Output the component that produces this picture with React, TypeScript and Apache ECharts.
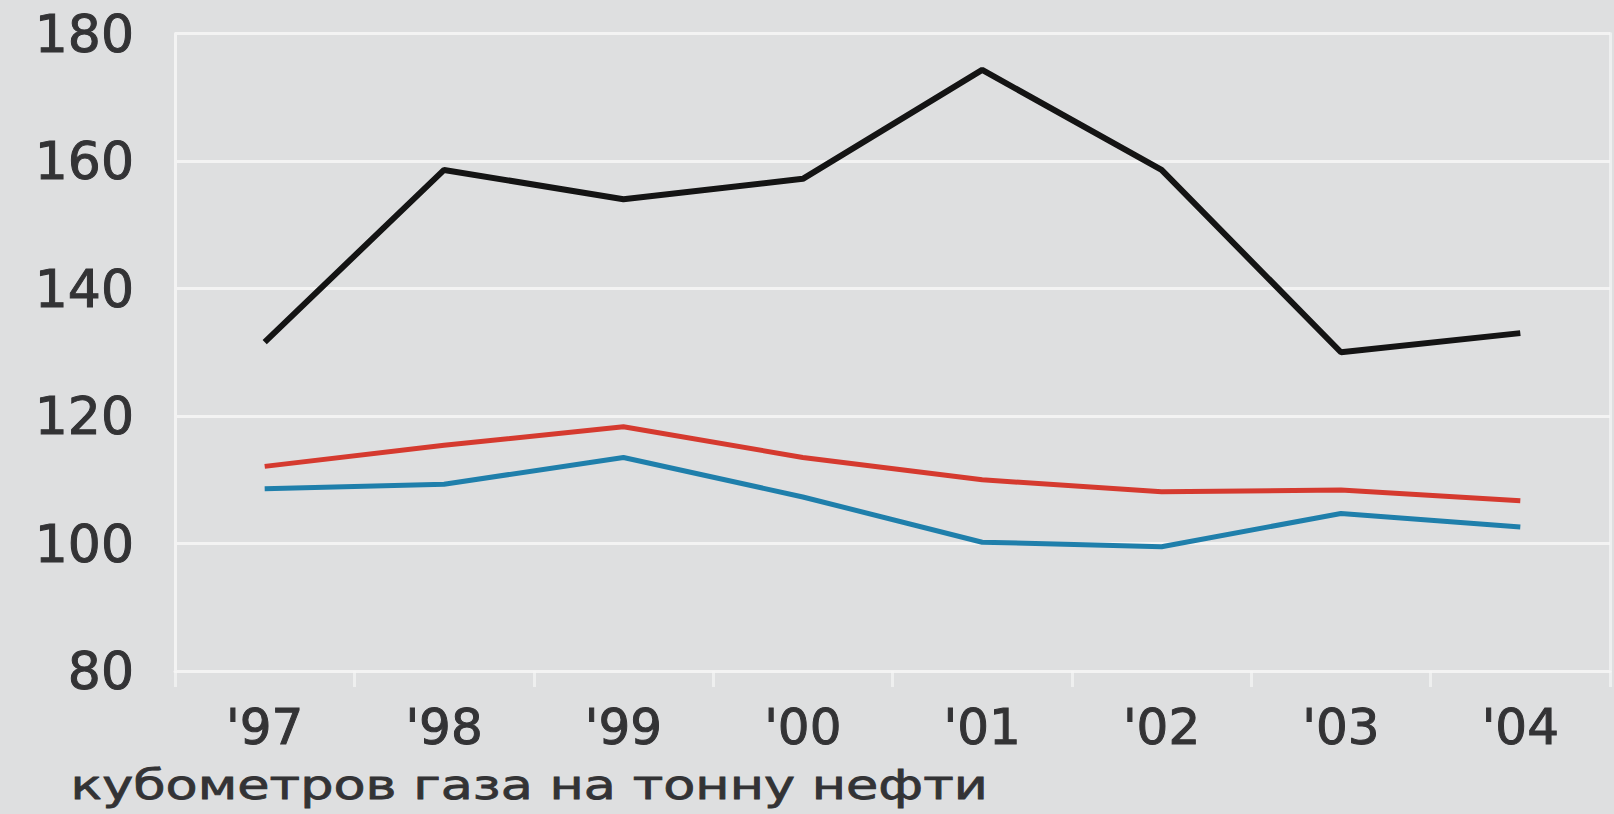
import React, { useEffect, useRef } from "react";
import * as echarts from "echarts";

const categories = ["'97", "'98", "'99", "'00", "'01", "'02", "'03", "'04"];
const blackSeries = [131.6, 158.6, 154.0, 157.2, 174.3, 158.6, 130.0, 133.0];
const redSeries = [112.1, 115.4, 118.3, 113.5, 110.0, 108.1, 108.4, 106.7];
const blueSeries = [108.6, 109.3, 113.5, 107.3, 100.2, 99.5, 104.7, 102.6];
const yMin = 80;
const yMax = 180;
const yInterval = 20;
const unitLabel = "кубометров газа на тонну нефти";

const FONT = "DejaVu Sans";
const TEXT = "#333335";
const GRIDC = "#f3f3f3";

export default function App() {
  const ref = useRef<HTMLDivElement>(null);
  useEffect(() => {
    if (!ref.current) return;
    const chart = echarts.init(ref.current, null, { renderer: "svg" });
    chart.setOption({
      animation: false,
      backgroundColor: "#dedfe0",
      textStyle: { fontFamily: FONT },
      grid: { left: 175, right: 4, top: 33.5, bottom: 143, containLabel: false },
      graphic: [
        {
          type: "text",
          left: 70,
          top: 764,
          scaleX: 1.28,
          style: {
            text: unitLabel,
            fontFamily: FONT,
            fontSize: 41,
            fontWeight: "normal",
            fill: TEXT,
            stroke: TEXT,
            lineWidth: 0.8,
          },
        },
      ],
      xAxis: {
        type: "category",
        data: categories,
        boundaryGap: true,
        axisLine: { show: true, lineStyle: { color: GRIDC, width: 3 } },
        axisTick: { show: true, length: 16, lineStyle: { color: "rgba(245,245,245,0.7)", width: 3 } },
        axisLabel: {
          fontFamily: FONT,
          fontSize: 50,
          color: TEXT,
          textBorderColor: TEXT,
          textBorderWidth: 1,
          margin: 31,
        },
        splitLine: { show: false },
      },
      yAxis: [
        {
          type: "value",
          min: yMin,
          max: yMax,
          interval: yInterval,
          axisLine: { show: true, lineStyle: { color: GRIDC, width: 3 } },
          axisTick: { show: false },
          axisLabel: {
            fontFamily: FONT,
            fontSize: 52,
            color: TEXT,
            textBorderColor: TEXT,
            textBorderWidth: 1,
            margin: 41,
          },
          splitLine: { show: true, lineStyle: { color: GRIDC, width: 3 } },
        },
        {
          type: "value",
          position: "right",
          min: yMin,
          max: yMax,
          interval: yInterval,
          axisLine: { show: true, lineStyle: { color: "rgba(245,245,245,0.7)", width: 3 } },
          axisTick: { show: false },
          axisLabel: { show: false },
          splitLine: { show: false },
        },
      ],
      series: [
        {
          type: "line",
          data: blackSeries,
          symbol: "none",
          lineStyle: { color: "#141414", width: 6 },
        },
        {
          type: "line",
          data: redSeries,
          symbol: "none",
          lineStyle: { color: "#d53a2f", width: 5 },
        },
        {
          type: "line",
          data: blueSeries,
          symbol: "none",
          lineStyle: { color: "#1f7fab", width: 5 },
        },
      ],
    });
    return () => chart.dispose();
  }, []);
  return (
    <div
      ref={ref}
      style={{ position: "absolute", left: 0, top: 0, width: 1614, height: 814 }}
    />
  );
}
